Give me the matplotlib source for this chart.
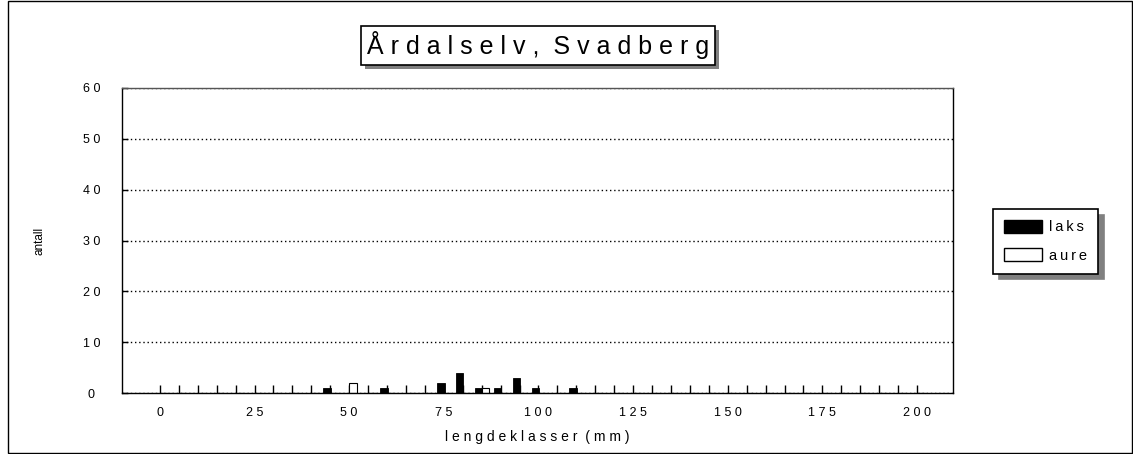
"""Length distribution chart: Årdalselv, Svadberg (laks / aure)."""
import matplotlib
matplotlib.use("Agg")
import matplotlib.pyplot as plt
from matplotlib.patches import Rectangle, Patch
from matplotlib.ticker import FuncFormatter

plt.rcParams["font.family"] = ["Liberation Sans", "DejaVu Sans"]

# data: length classes (mm) and counts per class
lengths = list(range(0, 205, 5))
laks_counts = {45: 1, 60: 1, 75: 2, 80: 4, 85: 1, 90: 1, 95: 3, 100: 1, 110: 1}
aure_counts = {50: 2, 85: 1}
laks = [laks_counts.get(v, 0) for v in lengths]
aure = [aure_counts.get(v, 0) for v in lengths]

y_ticks = [0, 10, 20, 30, 40, 50, 60]
label_step = 25

W, H = 1133, 454
TITLE = "Å r d a l s e l v ,  S v a d b e r g"


def spaced(s):
    return " ".join(str(s))


def main():
    fig = plt.figure(figsize=(W / 100, H / 100), dpi=100, facecolor="white")

    # outer chart frame
    fig.add_artist(Rectangle((8 / W, 0.002), 1 - 9 / W, 0.995, transform=fig.transFigure,
                             fill=False, edgecolor="black", lw=1.0))

    ax = fig.add_axes([122 / W, 1 - 393 / H, (953 - 122) / W, (393 - 88) / H])
    ax.set_axisbelow(True)

    lx = [v - 0.8 for v in lengths]
    axr = [v + 1.0 for v in lengths]
    ax.bar(lx, laks, width=2.0, color="black", edgecolor="black", lw=0.6, zorder=2)
    ax.bar(axr, aure, width=2.0, color="white", edgecolor="black", lw=0.8, zorder=2)

    ax.set_xlim(-10, 209.5)
    ax.set_ylim(0, 60)

    ax.set_yticks(y_ticks)
    ax.yaxis.set_major_formatter(FuncFormatter(lambda v, p: spaced(int(v))))
    ax.tick_params(axis="y", direction="in", length=4, width=1, labelsize=9, pad=22)
    for lbl in ax.get_yticklabels():
        lbl.set_horizontalalignment("center")

    ax.set_xticks(lengths)
    ax.xaxis.set_major_formatter(
        FuncFormatter(lambda v, p: spaced(int(v)) if int(v) % label_step == 0 else ""))
    ax.tick_params(axis="x", direction="in", length=6, width=1, labelsize=9, pad=10)

    ax.grid(axis="y", color="black", linestyle=(0, (1, 2)), lw=1.0)
    ax.grid(axis="x", visible=False)
    for sp in ax.spines.values():
        sp.set_linewidth(1.0)
    ax.spines["top"].set_color("#555555")

    ax.set_xlabel("l e n g d e k l a s s e r  ( m m )", fontsize=10, labelpad=8)
    ax.set_ylabel("antall", fontsize=8.5, labelpad=27)

    # title with drop shadow
    title = fig.text(538 / W, 1 - 45 / H, TITLE, fontsize=18, ha="center", va="center",
                     zorder=3,
                     bbox=dict(boxstyle="square,pad=0.22", facecolor="white",
                               edgecolor="black", lw=1.2))
    fig.canvas.draw()
    bb = title.get_bbox_patch().get_window_extent()
    fig.add_artist(Rectangle(((bb.x0 + 4) / W, (bb.y0 - 4) / H), bb.width / W, bb.height / H,
                             transform=fig.transFigure, facecolor="#808080",
                             edgecolor="none", zorder=1))

    handles = [Patch(facecolor="black", edgecolor="black"),
               Patch(facecolor="white", edgecolor="black")]
    leg = fig.legend(handles, ["l\u2009a\u2009k\u2009s", "a\u2009u\u2009r\u2009e"],
                     loc="upper left", bbox_to_anchor=(993 / W, 1 - 209 / H),
                     borderaxespad=0, fontsize=10.5,
                     frameon=True, fancybox=False, edgecolor="black", framealpha=1,
                     shadow={"color": "#808080", "alpha": 1, "ox": 4, "oy": -4},
                     handlelength=2.6, handleheight=1.0, handletextpad=0.5,
                     borderpad=0.75, labelspacing=0.95)
    leg.get_frame().set_linewidth(1.2)

    fig.savefig("out.png", dpi=100, facecolor="white")


if __name__ == "__main__":
    main()
